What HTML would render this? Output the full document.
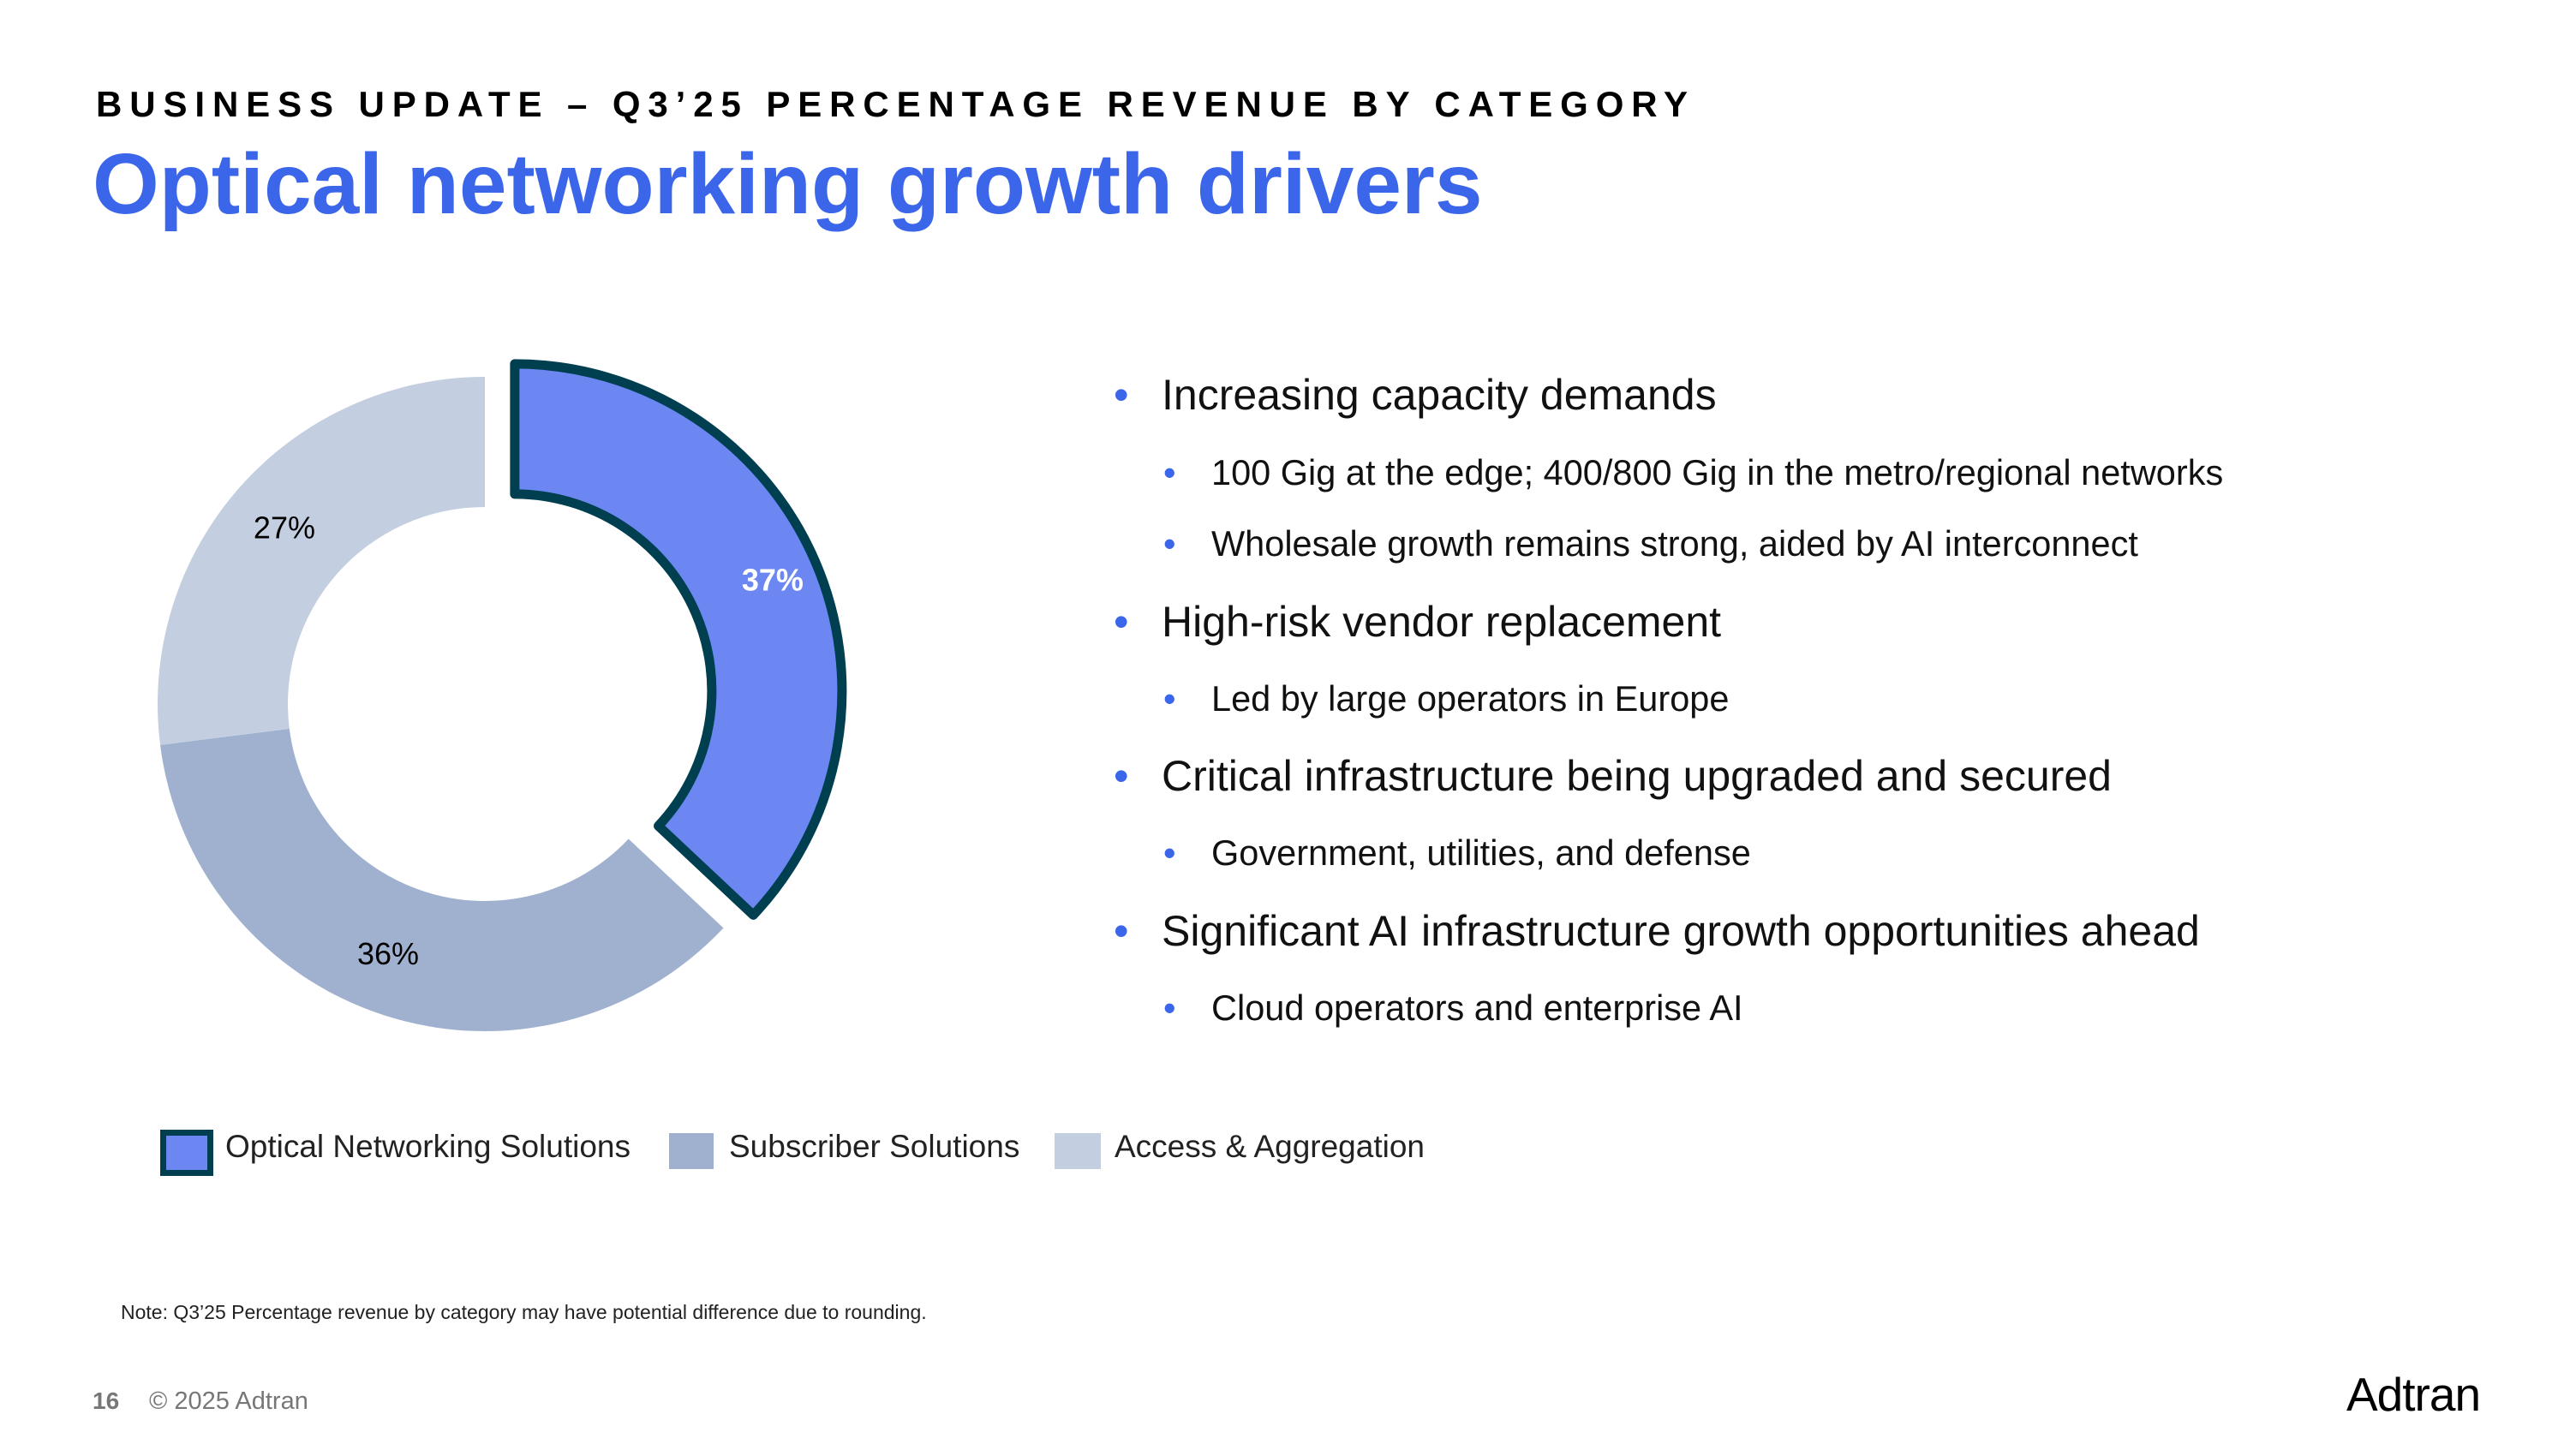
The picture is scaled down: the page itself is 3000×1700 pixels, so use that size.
<!DOCTYPE html>
<html><head><meta charset="utf-8">
<style>
html,body{margin:0;padding:0;background:#fff;}
body{width:3000px;height:1687px;position:relative;overflow:hidden;font-family:"Liberation Sans",Arial,sans-serif;}
.abs{position:absolute;white-space:nowrap;}
.l1{font-size:50px;color:#111;}
.l2{font-size:41.5px;color:#111;}
.b{position:absolute;color:#3B66EA;}
</style></head>
<body>
<div class="abs" style="left:112px;top:98px;font-size:42px;font-weight:bold;letter-spacing:8.9px;color:#000;">BUSINESS UPDATE – Q3’25 PERCENTAGE REVENUE BY CATEGORY</div>
<div class="abs" style="left:108px;top:158px;font-size:100px;font-weight:bold;color:#3B66EA;">Optical networking growth drivers</div>

<svg id="chart" width="1100" height="1400" style="position:absolute;left:0;top:300px;" viewBox="0 300 1100 1400"></svg>

<div>
<div class="abs l1" style="left:1356px;top:432px;"><span class="b" style="left:-56px;">•</span>Increasing capacity demands</div>
<div class="abs l2" style="left:1414px;top:528px;"><span class="b" style="left:-56px;">•</span>100 Gig at the edge; 400/800 Gig in the metro/regional networks</div>
<div class="abs l2" style="left:1414px;top:611px;"><span class="b" style="left:-56px;">•</span>Wholesale growth remains strong, aided by AI interconnect</div>
<div class="abs l1" style="left:1356px;top:697px;"><span class="b" style="left:-56px;">•</span>High-risk vendor replacement</div>
<div class="abs l2" style="left:1414px;top:792px;"><span class="b" style="left:-56px;">•</span>Led by large operators in Europe</div>
<div class="abs l1" style="left:1356px;top:877px;"><span class="b" style="left:-56px;">•</span>Critical infrastructure being upgraded and secured</div>
<div class="abs l2" style="left:1414px;top:972px;"><span class="b" style="left:-56px;">•</span>Government, utilities, and defense</div>
<div class="abs l1" style="left:1356px;top:1058px;"><span class="b" style="left:-56px;">•</span>Significant AI infrastructure growth opportunities ahead</div>
<div class="abs l2" style="left:1414px;top:1153px;"><span class="b" style="left:-56px;">•</span>Cloud operators and enterprise AI</div>
</div>

<div>
<div class="abs" style="left:187px;top:1319px;width:48px;height:40px;background:#6C87F2;border:7px solid #003F50;"></div>
<div class="abs" style="left:263px;top:1318px;font-size:37px;color:#222;">Optical Networking Solutions</div>
<div class="abs" style="left:781px;top:1323px;width:52px;height:42px;background:#9FB1CF;"></div>
<div class="abs" style="left:851px;top:1318px;font-size:37px;color:#222;">Subscriber Solutions</div>
<div class="abs" style="left:1231px;top:1323px;width:54px;height:42px;background:#C3CEE0;"></div>
<div class="abs" style="left:1301px;top:1318px;font-size:37px;color:#222;">Access &amp; Aggregation</div>
</div>

<div class="abs" style="left:141px;top:1519px;font-size:23px;color:#222;">Note: Q3’25 Percentage revenue by category may have potential difference due to rounding.</div>
<div class="abs" style="left:108px;top:1620px;font-size:28px;font-weight:bold;color:#777;">16</div>
<div class="abs" style="left:174px;top:1620px;font-size:29px;color:#777;">© 2025 Adtran</div>
<div class="abs" style="left:2739px;top:1596px;font-size:55px;color:#000;letter-spacing:-1px;">Adtran</div>

<script>
const categories = ["Optical Networking Solutions","Subscriber Solutions","Access & Aggregation"];
const values = [37, 36, 27];
const valueLabels = ["37%","36%","27%"];
const colors = ["#6C87F2","#9FB1CF","#C3CEE0"];
const labelColors = ["#fff","#000","#000"];
const exploded = [true,false,false];

const svg = document.getElementById('chart');
const NS = 'http://www.w3.org/2000/svg';
const cx = 566, cy = 822, R = 382, r = 230, explodeDist = 38;
const total = values.reduce((a,b)=>a+b,0);
function pt(a, rad, ox, oy){ return [cx+ox+rad*Math.sin(a), cy+oy-rad*Math.cos(a)]; }
let acc = 0;
values.forEach((v,i)=>{
  const a0 = acc/total*2*Math.PI; acc += v; const a1 = acc/total*2*Math.PI;
  const mid = (a0+a1)/2;
  const ox = exploded[i] ? explodeDist*Math.sin(mid) : 0;
  const oy = exploded[i] ? -explodeDist*Math.cos(mid) : 0;
  const large = (a1-a0) > Math.PI ? 1 : 0;
  const p0 = pt(a0,R,ox,oy), p1 = pt(a1,R,ox,oy), p2 = pt(a1,r,ox,oy), p3 = pt(a0,r,ox,oy);
  const d = `M${p0} A${R},${R} 0 ${large} 1 ${p1} L${p2} A${r},${r} 0 ${large} 0 ${p3} Z`;
  const path = document.createElementNS(NS,'path');
  path.setAttribute('d', d);
  path.setAttribute('fill', colors[i]);
  if (exploded[i]) { path.setAttribute('stroke','#003F50'); path.setAttribute('stroke-width','11'); path.setAttribute('stroke-linejoin','round'); }
  
  
  svg.appendChild(path);
  const lr = exploded[i] ? 328 : 312;
  const la = i===1 ? a0+(a1-a0)*0.525 : mid;
  const lp = pt(la, lr, ox, oy);
  const t = document.createElementNS(NS,'text');
  t.setAttribute('x', lp[0]); t.setAttribute('y', lp[1]+13);
  t.setAttribute('text-anchor','middle');
  t.setAttribute('font-size','36');
  t.setAttribute('font-family','Liberation Sans, Arial, sans-serif');
  t.setAttribute('fill', labelColors[i]);
  if (exploded[i]) t.setAttribute('font-weight','bold');
  t.textContent = valueLabels[i];
  
  
  svg.appendChild(t);
});
</script>
</body></html>
